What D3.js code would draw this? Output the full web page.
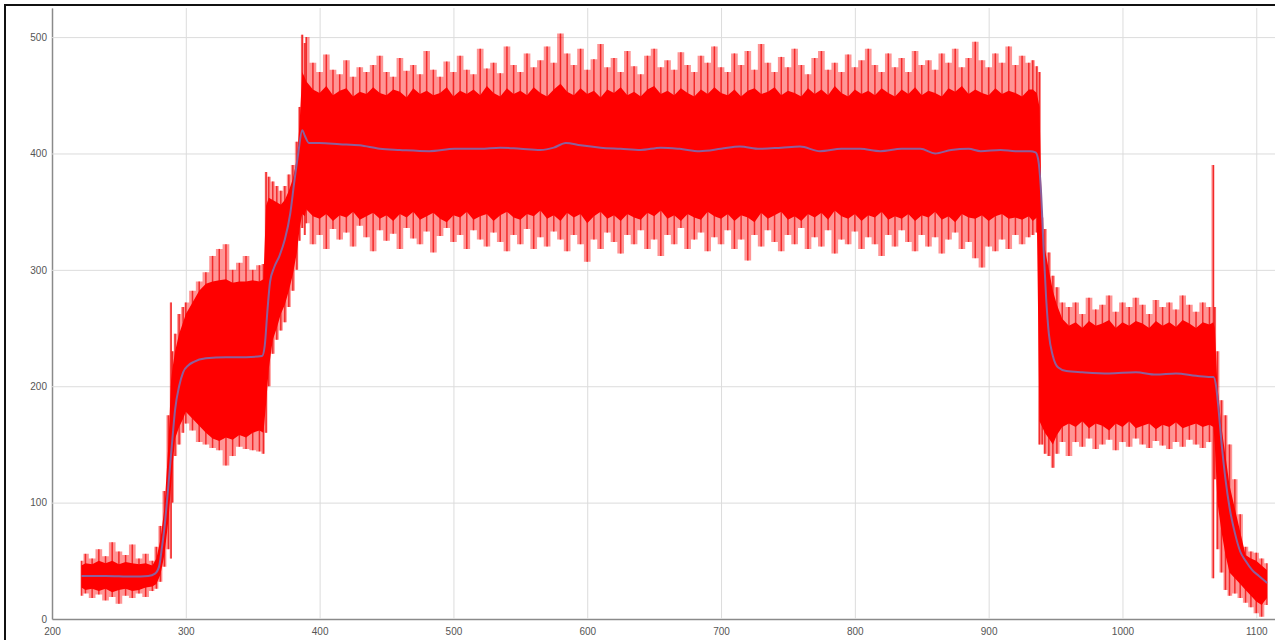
<!DOCTYPE html>
<html>
<head>
<meta charset="utf-8">
<script src="https://cdn.jsdelivr.net/npm/d3@7"></script>
<style>
    body { margin: 0; background: #fff; }
    svg { display: block; }
</style>
</head>
<body>
<div id="chart"></div>
<script>

// DATA
// ================================================================================== //

const X_TICKS = [200, 300, 400, 500, 600, 700, 800, 900, 1000, 1100];
const Y_TICKS = [0, 100, 200, 300, 400, 500];

// sample positions of the noisy red signal
const SAMPLE_X = [
    222, 225, 230, 235, 240, 245, 250, 255, 260, 265, 270, 275,
    278, 281, 284, 287, 289, 290, 292, 295, 298,
    300, 305, 310, 315, 320, 325, 330, 335, 340, 345, 350, 355,
    358, 360, 362, 365, 368, 371, 374, 377, 380, 383, 385, 387, 389,
    390, 395, 400, 405, 410, 415, 420, 425, 430, 435,
    440, 445, 450, 455, 460, 465, 470, 475, 480, 485,
    490, 495, 500, 505, 510, 515, 520, 525, 530, 535,
    540, 545, 550, 555, 560, 565, 570, 575, 580, 585,
    590, 595, 600, 605, 610, 615, 620, 625, 630, 635,
    640, 645, 650, 655, 660, 665, 670, 675, 680, 685,
    690, 695, 700, 705, 710, 715, 720, 725, 730, 735,
    740, 745, 750, 755, 760, 765, 770, 775, 780, 785,
    790, 795, 800, 805, 810, 815, 820, 825, 830, 835,
    840, 845, 850, 855, 860, 865, 870, 875, 880, 885,
    890, 895, 900, 905, 910, 915, 920, 925, 930,
    933, 936, 938, 940, 942, 945, 948, 951, 955,
    960, 965, 970, 975, 980, 985, 990, 995, 1000, 1005, 1010,
    1015, 1020, 1025, 1030, 1035, 1040, 1045, 1050, 1055, 1060, 1065,
    1068, 1069, 1071, 1074, 1077, 1080, 1084, 1088, 1092, 1096, 1100, 1104, 1108
];

// highest spikes
const HI_TIP = [
    50, 56, 52, 60, 54, 66, 58, 55, 64, 52, 56, 50,
    62, 80, 110, 175, 272, 230, 245, 262, 268,
    272, 282, 290, 298, 312, 318, 322, 300, 306, 312, 300, 304,
    305, 384, 380, 376, 372, 368, 372, 382, 390, 410, 440, 502, 495,
    500, 478, 470, 485, 472, 468, 480, 466, 474, 470,
    476, 484, 470, 466, 482, 471, 476, 468, 488, 472,
    466, 479, 470, 484, 472, 468, 490, 473, 478, 469,
    492, 476, 470, 486, 474, 480, 492, 478, 503, 486,
    476, 490, 472, 481, 494, 474, 482, 470, 488, 475,
    468, 484, 490, 474, 480, 472, 487, 476, 470, 484,
    478, 492, 474, 470, 486, 476, 488, 472, 494, 478,
    470, 483, 474, 490, 476, 468, 482, 488, 472, 478,
    470, 485, 474, 480, 490, 476, 470, 486, 474, 482,
    470, 488, 476, 480, 472, 486, 478, 490, 474, 482,
    496, 480, 474, 486, 478, 492, 476, 484, 478,
    480, 475, 470, 345, 335, 315, 295, 285, 272,
    268, 272, 262, 276, 266, 270, 278, 264, 272, 268, 276,
    270, 262, 274, 268, 272, 266, 278, 270, 264, 272, 268,
    390, 268, 230, 188, 175, 150, 120, 90, 62, 58, 57, 52, 48
];

// upper edge of the solid band
const HI_CORE = [
    46, 48, 47, 50, 48, 50, 47, 49, 48, 47, 48, 46,
    52, 68, 95, 150, 205, 215, 230, 245, 255,
    262, 272, 282, 288, 290, 291, 292, 289, 290, 290, 291, 290,
    292, 355, 362, 360, 358, 356, 360, 368, 378, 395, 425, 470, 465,
    462, 455, 452, 458, 450, 454, 456, 449, 453, 451,
    457, 452, 450, 455, 453, 448, 456, 451, 454, 450,
    452, 457, 449, 454, 451, 455, 450, 458, 452, 449,
    456, 451, 454, 450, 457, 452, 449, 455, 460, 453,
    450, 456, 451, 454, 448, 455, 452, 457, 450, 453,
    449, 455, 458, 451, 454, 450, 456, 452, 449, 455,
    451, 457, 452, 450, 455, 449, 454, 456, 451, 453,
    457, 450, 454, 452, 449, 456, 451, 455, 450, 458,
    452, 449, 455, 451, 454, 450, 456, 452, 449, 455,
    451, 457, 450, 454, 452, 449, 456, 453, 458, 451,
    455, 452, 450, 456, 451, 454, 452, 449, 455,
    455, 452, 440, 330, 318, 300, 282, 270, 258,
    252, 255, 250, 256, 252, 254, 257, 250, 255, 252, 256,
    254, 250, 256, 252, 255, 251, 257, 254, 250, 255, 253,
    255, 250, 200, 165, 140, 115, 95, 75, 55, 52, 50, 46, 42
];

// lower edge of the solid band
const LO_CORE = [
    27, 25, 26, 24, 26, 23, 25, 26, 24, 25, 27, 28,
    30, 38, 55, 85, 115, 130, 155, 165, 172,
    178, 172, 166, 160, 155, 153, 156, 154, 158, 156, 160, 162,
    160, 185, 215, 240, 250, 262, 270, 282, 296, 315, 335, 348, 346,
    352, 346, 344, 348, 342, 347, 345, 350, 343, 346,
    349, 344, 347, 342, 348, 345, 350, 343, 346, 349,
    344, 341, 347, 345, 350, 343, 346, 348, 342, 347,
    350, 345, 343, 348, 346, 351, 344, 347, 342, 349,
    345, 348, 340, 346, 350, 344, 347, 342, 348, 345,
    343, 349, 346, 351, 344, 347, 342, 348, 345, 343,
    350, 346, 344, 348, 342, 347, 345, 341, 349, 344,
    347, 350, 343, 346, 342, 348, 345, 349, 343, 351,
    346, 344, 348, 342, 347, 345, 350, 343, 346, 344,
    348, 342, 347, 345, 350, 343, 346, 341, 348, 345,
    344, 347, 342, 346, 348, 344, 345, 343, 346,
    342, 345, 170, 165, 160, 155, 150, 158, 165,
    168, 165, 170, 164, 168, 166, 162, 168, 165, 170, 164,
    166, 168, 163, 167, 165, 169, 164, 166, 168, 165, 167,
    165, 150, 100, 75, 55, 40, 35, 30, 25, 20, 15, 12, 18
];

// lowest spikes
const LO_TIP = [
    20, 22, 18, 21, 16, 19, 13, 20, 18, 22, 19, 24,
    26, 32, 45, 60, 52, 100, 140, 150, 160,
    168, 162, 152, 150, 147, 145, 132, 140, 148, 146, 145, 144,
    142, 160, 200, 228, 240, 248, 255, 268, 282, 300, 325, 336, 330,
    340, 322, 330, 318, 335, 326, 332, 320, 338, 328,
    316, 334, 325, 331, 318, 336, 327, 322, 333, 315,
    329, 336, 324, 330, 318, 334, 326, 320, 332, 324,
    316, 330, 322, 335, 318, 328, 320, 333, 326, 316,
    330, 322, 307, 326, 318, 332, 324, 314, 330, 322,
    334, 318, 326, 312, 330, 322, 336, 318, 326, 332,
    316, 328, 322, 334, 318, 326, 308, 330, 320, 334,
    324, 316, 330, 322, 336, 318, 328, 320, 334, 314,
    326, 322, 333, 318, 328, 322, 312, 330, 320, 334,
    324, 316, 330, 320, 328, 314, 326, 332, 318, 324,
    310, 302, 320, 316, 326, 318, 330, 322, 328,
    330, 332, 150, 150, 142, 140, 130, 142, 152,
    140, 152, 148, 155, 146, 150, 154, 145, 152, 148, 155,
    150, 147, 153, 149, 146, 152, 148, 154, 150, 147, 152,
    35, 120, 60, 40, 25, 20, 22, 18, 14, 10, 5, 2, 12
];

// smoothed (moving average) line
const MEAN_X = [
    222, 240, 260, 272, 277, 280, 282, 284, 287, 290, 292, 295, 298, 302, 306, 315, 330, 345, 357,
    359, 361, 363, 366, 370, 374, 378, 381, 384, 387, 389, 392,
    400, 415, 430, 445, 460, 482, 501, 520, 535, 550, 565, 575, 584, 595, 610, 625, 640, 655, 669,
    684, 700, 714, 729, 745, 759, 774, 790, 804, 819, 835, 849, 860, 872, 885, 894, 909, 920, 931,
    935, 937, 939, 941, 943, 945, 948, 952, 958, 970, 990, 1010, 1025, 1040, 1055, 1066,
    1068, 1070, 1072, 1074, 1077, 1080, 1084, 1088, 1092, 1097, 1102, 1106, 1108
];
const MEAN_V = [
    37, 37, 36.5, 37, 39, 45, 60, 78, 115, 155, 180, 200, 212, 218, 221, 224, 225, 225, 226,
    235, 265, 290, 302, 312, 326, 348, 375, 400, 420, 415, 409,
    409, 408, 407, 404, 403, 402, 404, 404, 405, 404, 403, 405, 409, 407, 405, 404, 403, 405, 404,
    402, 404, 406, 404, 405, 406, 402, 404, 404, 402, 404, 404, 400, 403, 404, 402, 403, 402, 402,
    401, 395, 370, 320, 275, 245, 226, 216, 213, 212, 211, 212, 210, 211, 209, 208,
    208, 200, 178, 152, 120, 96, 74, 58, 50, 42, 37, 33, 31
];

// ================================================================================== //
// DATA END


const width = 1275;
const height = 640;
const margin = ({ top: 8, right: 0, bottom: 21, left: 52 });

const samples = SAMPLE_X.map((v, i) => ({
    x: v,
    hiTip: HI_TIP[i],
    hiCore: HI_CORE[i],
    loCore: LO_CORE[i],
    loTip: LO_TIP[i],
}));
const meanData = MEAN_X.map((v, i) => ({ x: v, y: MEAN_V[i] }));

const x = d3.scaleLinear()
    .domain([200, 1114])
    .range([margin.left, width - margin.right]);

const y = d3.scaleLinear()
    .domain([0, 525])
    .range([height - margin.bottom, margin.top]);

const svg = d3.select("#chart")
    .append("svg")
    .attr("width", width)
    .attr("height", height)
    .style("font-family", "'Liberation Sans', Arial, sans-serif");

// grid + axes
svg.append("g")
    .attr("transform", `translate(0,${y(0)})`)
    .call(d3.axisBottom(x)
        .tickValues(X_TICKS)
        .tickSizeInner(-(y(0) - margin.top))
        .tickSizeOuter(0)
        .tickPadding(9)
        .tickFormat(d3.format("d")))
    .call(g => g.selectAll(".tick line").attr("stroke", "#dcdcdc"))
    .call(g => g.select(".domain").attr("stroke", "#8a8a8a").attr("stroke-width", 1.5))
    .call(g => g.selectAll("text").attr("fill", "#555").attr("font-size", 10));

svg.append("g")
    .attr("transform", `translate(${x(200)},0)`)
    .call(d3.axisLeft(y)
        .tickValues(Y_TICKS)
        .tickSizeInner(-(width - x(200)))
        .tickSizeOuter(0)
        .tickPadding(5)
        .tickFormat(d3.format("d")))
    .call(g => g.selectAll(".tick line").attr("stroke", d => d === 0 ? "none" : "#dcdcdc"))
    .call(g => g.select(".domain").attr("stroke", "#8a8a8a").attr("stroke-width", 1.5))
    .call(g => g.selectAll("text").attr("fill", "#555").attr("font-size", 10));

// red signal: spread of the spikes, the spikes, then the solid band
const plot = svg.append("g");

plot.append("path")
    .datum(samples)
    .attr("fill", "rgba(255,20,20,0.45)")
    .attr("d", d3.area()
        .curve(d3.curveStep)
        .x(d => x(d.x))
        .y0(d => y(d.loTip))
        .y1(d => y(d.hiTip)));

plot.append("g")
    .selectAll("line")
    .data(samples)
    .join("line")
    .attr("x1", d => x(d.x))
    .attr("x2", d => x(d.x))
    .attr("y1", d => y(d.loTip))
    .attr("y2", d => y(d.hiTip))
    .attr("stroke", "#f01818")
    .attr("stroke-opacity", 0.85)
    .attr("stroke-width", 1.5);

plot.append("path")
    .datum(samples)
    .attr("fill", "#ff0000")
    .attr("d", d3.area()
        .x(d => x(d.x))
        .y0(d => y(d.loCore))
        .y1(d => y(d.hiCore)));

// moving average
plot.append("path")
    .datum(meanData)
    .attr("fill", "none")
    .attr("stroke", "#8c609c")
    .attr("stroke-width", 2)
    .attr("d", d3.line()
        .curve(d3.curveMonotoneX)
        .x(d => x(d.x))
        .y(d => y(d.y)));

// outer frame
svg.append("rect")
    .attr("x", 5)
    .attr("y", 5)
    .attr("width", width + 10)
    .attr("height", height + 10)
    .attr("fill", "none")
    .attr("stroke", "#111")
    .attr("stroke-width", 2);

</script>
</body>
</html>
